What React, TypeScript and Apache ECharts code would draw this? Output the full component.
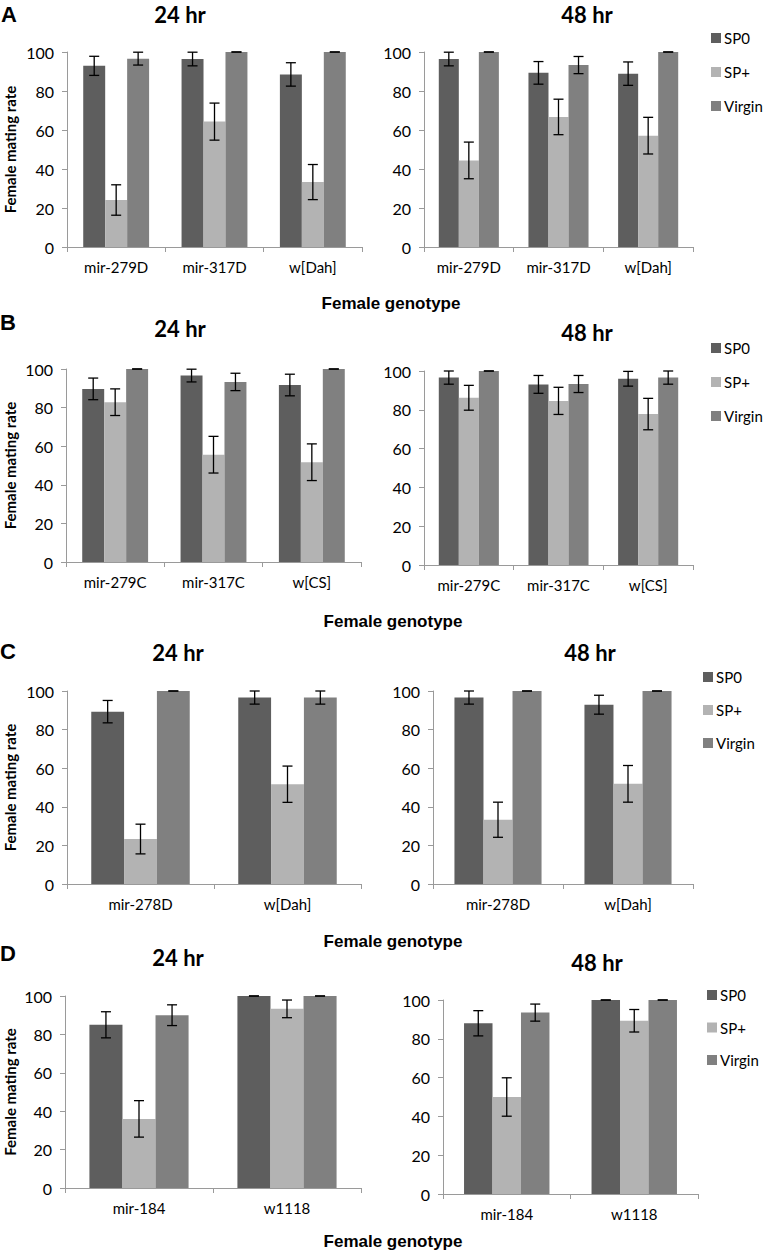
import React, { useEffect, useRef } from "react";
import * as echarts from "echarts";

// ---------- data ----------
const SERIES_NAMES = ["SP0", "SP+", "Virgin"];
const Y_MIN = 0;
const Y_MAX = 100;
const Y_INTERVAL = 20;

const CATS_A = ["mir-279D", "mir-317D", "w[Dah]"];
const CATS_B = ["mir-279C", "mir-317C", "w[CS]"];
const CATS_C = ["mir-278D", "w[Dah]"];
const CATS_D = ["mir-184", "w1118"];

// Panel A, 24 hr
const A24_SP0 = [92.9, 96.4, 88.5];
const A24_SP0_ERR = [4.9, 3.5, 6.0];
const A24_SPP = [24.1, 64.3, 33.3];
const A24_SPP_ERR = [7.8, 9.5, 9.0];
const A24_VIR = [96.6, 100, 100];
const A24_VIR_ERR = [3.3, 0, 0];
// Panel A, 48 hr
const A48_SP0 = [96.4, 89.3, 88.9];
const A48_SP0_ERR = [3.5, 5.8, 6.0];
const A48_SPP = [44.4, 66.7, 57.1];
const A48_SPP_ERR = [9.4, 9.1, 9.4];
const A48_VIR = [100, 93.3, 100];
const A48_VIR_ERR = [0, 4.4, 0];
// Panel B, 24 hr
const B24_SP0 = [89.7, 96.6, 91.7];
const B24_SP0_ERR = [5.6, 3.3, 5.6];
const B24_SPP = [82.8, 55.6, 51.7];
const B24_SPP_ERR = [6.9, 9.5, 9.5];
const B24_VIR = [100, 93.3, 100];
const B24_VIR_ERR = [0, 4.5, 0];
// Panel B, 48 hr
const B48_SP0 = [96.6, 93.1, 96.0];
const B48_SP0_ERR = [3.4, 4.6, 3.8];
const B48_SPP = [86.2, 84.6, 77.8];
const B48_SPP_ERR = [6.4, 7.0, 8.1];
const B48_VIR = [100, 93.3, 96.6];
const B48_VIR_ERR = [0, 4.4, 3.4];
// Panel C, 24 hr
const C24_SP0 = [89.3, 96.6];
const C24_SP0_ERR = [5.8, 3.4];
const C24_SPP = [23.3, 51.7];
const C24_SPP_ERR = [7.7, 9.4];
const C24_VIR = [100, 96.6];
const C24_VIR_ERR = [0, 3.4];
// Panel C, 48 hr
const C48_SP0 = [96.6, 92.9];
const C48_SP0_ERR = [3.4, 4.9];
const C48_SPP = [33.3, 51.9];
const C48_SPP_ERR = [9.1, 9.5];
const C48_VIR = [100, 100];
const C48_VIR_ERR = [0, 0];
// Panel D, 24 hr
const D24_SP0 = [85.0, 100];
const D24_SP0_ERR = [6.8, 0];
const D24_SPP = [36.0, 93.3];
const D24_SPP_ERR = [9.5, 4.6];
const D24_VIR = [90.0, 100];
const D24_VIR_ERR = [5.4, 0];
// Panel D, 48 hr
const D48_SP0 = [88.0, 100];
const D48_SP0_ERR = [6.5, 0];
const D48_SPP = [50.0, 89.3];
const D48_SPP_ERR = [9.9, 5.8];
const D48_VIR = [93.5, 100];
const D48_VIR_ERR = [4.4, 0];

const PANEL_LETTERS = ["A", "B", "C", "D"];
const TIME_LABELS = ["24 hr", "48 hr"];
const X_TITLE = "Female genotype";
const Y_TITLE = "Female mating rate";

// ---------- styling / layout ----------
const COLORS = ["#5e5e5e", "#b3b3b3", "#808080"];
const FONT = "Lato, 'Open Sans', sans-serif";
const ARIAL = "'Liberation Sans', Arial, sans-serif";
const AXIS_GRAY = "#9a9a9a";
const GAP = 0.33;

const CHARTS = [
  { cats: CATS_A, means: [A24_SP0, A24_SPP, A24_VIR], errs: [A24_SP0_ERR, A24_SPP_ERR, A24_VIR_ERR], grid: { left: 67, top: 52, width: 295, height: 195 } },
  { cats: CATS_A, means: [A48_SP0, A48_SPP, A48_VIR], errs: [A48_SP0_ERR, A48_SPP_ERR, A48_VIR_ERR], grid: { left: 424, top: 52, width: 269, height: 195 } },
  { cats: CATS_B, means: [B24_SP0, B24_SPP, B24_VIR], errs: [B24_SP0_ERR, B24_SPP_ERR, B24_VIR_ERR], grid: { left: 66, top: 369, width: 295, height: 193 } },
  { cats: CATS_B, means: [B48_SP0, B48_SPP, B48_VIR], errs: [B48_SP0_ERR, B48_SPP_ERR, B48_VIR_ERR], grid: { left: 424, top: 371, width: 269, height: 194 } },
  { cats: CATS_C, means: [C24_SP0, C24_SPP, C24_VIR], errs: [C24_SP0_ERR, C24_SPP_ERR, C24_VIR_ERR], grid: { left: 67, top: 691, width: 294, height: 193 } },
  { cats: CATS_C, means: [C48_SP0, C48_SPP, C48_VIR], errs: [C48_SP0_ERR, C48_SPP_ERR, C48_VIR_ERR], grid: { left: 433, top: 691, width: 260, height: 193 } },
  { cats: CATS_D, means: [D24_SP0, D24_SPP, D24_VIR], errs: [D24_SP0_ERR, D24_SPP_ERR, D24_VIR_ERR], grid: { left: 65, top: 996, width: 296, height: 192 } },
  { cats: CATS_D, means: [D48_SP0, D48_SPP, D48_VIR], errs: [D48_SP0_ERR, D48_SPP_ERR, D48_VIR_ERR], grid: { left: 443, top: 1000, width: 255, height: 194 } },
];

const LETTER_POS = [
  { x: 1, y: 14 },
  { x: 0, y: 322 },
  { x: 0, y: 651 },
  { x: 0, y: 953 },
];
const TITLE_POS = [
  [{ x: 180, y: 14 }, { x: 587, y: 14 }],
  [{ x: 180, y: 328 }, { x: 587, y: 332 }],
  [{ x: 178, y: 652 }, { x: 590, y: 652 }],
  [{ x: 178, y: 957 }, { x: 597, y: 962 }],
];
const XTITLE_POS = [
  { x: 391, y: 303 },
  { x: 393, y: 621 },
  { x: 393, y: 941 },
  { x: 393, y: 1241 },
];
const LEGEND_POS = [
  { left: 706, top: 24, gap: 16 },
  { left: 706, top: 334, gap: 16 },
  { left: 698, top: 663, gap: 15 },
  { left: 702, top: 981, gap: 14.5 },
];

function errSeries(gi: number, s: number, means: number[], errs: number[]) {
  return {
    type: "custom",
    xAxisIndex: gi,
    yAxisIndex: gi,
    silent: true,
    z: 10,
    encode: { x: 0, y: 1 },
    data: means.map((m, i) => [i, m, errs[i]]),
    renderItem: (params: any, api: any) => {
      const ci = api.value(0);
      const v = api.value(1);
      const e = api.value(2);
      const band = api.size([1, 0])[0];
      const bw = (band * (1 - GAP)) / 3;
      const x = api.coord([ci, v])[0] + (s - 1) * bw;
      const yT = api.coord([ci, v + e])[1];
      const yB = api.coord([ci, v - e])[1];
      const h = 5;
      const st = { stroke: "#000", lineWidth: 1.3 };
      return {
        type: "group",
        children: [
          { type: "line", shape: { x1: x, y1: yT, x2: x, y2: yB }, style: st },
          { type: "line", shape: { x1: x - h, y1: yT, x2: x + h, y2: yT }, style: st },
          { type: "line", shape: { x1: x - h, y1: yB, x2: x + h, y2: yB }, style: st },
        ],
      };
    },
  };
}

function buildOption() {
  const grid: any[] = [];
  const xAxis: any[] = [];
  const yAxis: any[] = [];
  const series: any[] = [];
  CHARTS.forEach((c, gi) => {
    grid.push({ ...c.grid, containLabel: false });
    xAxis.push({
      type: "category",
      gridIndex: gi,
      data: c.cats,
      axisLine: { show: true, lineStyle: { color: AXIS_GRAY, width: 1 } },
      axisTick: { show: true, length: 5, lineStyle: { color: AXIS_GRAY } },
      axisLabel: { color: "#000", fontFamily: FONT, fontSize: 15, margin: 12 },
      splitLine: { show: false },
    });
    yAxis.push({
      type: "value",
      gridIndex: gi,
      min: Y_MIN,
      max: Y_MAX,
      interval: Y_INTERVAL,
      axisLine: { show: true, lineStyle: { color: AXIS_GRAY, width: 1 } },
      axisTick: { show: true, length: 5, lineStyle: { color: AXIS_GRAY } },
      axisLabel: { color: "#000", fontFamily: FONT, fontSize: 16, margin: 13 },
      splitLine: { show: false },
    });
    c.means.forEach((m, s) => {
      series.push({
        type: "bar",
        name: SERIES_NAMES[s],
        xAxisIndex: gi,
        yAxisIndex: gi,
        data: m,
        barGap: "0%",
        barCategoryGap: GAP * 100 + "%",
        itemStyle: { color: COLORS[s] },
        silent: true,
      });
    });
    c.means.forEach((m, s) => {
      series.push(errSeries(gi, s, m, c.errs[s]));
    });
  });

  const legend = LEGEND_POS.map((p) => ({
    data: SERIES_NAMES,
    orient: "vertical",
    left: p.left,
    top: p.top,
    itemWidth: 10,
    itemHeight: 10,
    itemGap: p.gap,
    icon: "rect",
    selectedMode: false,
    textStyle: { fontFamily: FONT, fontSize: 15, color: "#000", lineHeight: 18, padding: [0, 0, 0, -2] },
  }));

  const graphic: any[] = [];
  PANEL_LETTERS.forEach((L, i) => {
    graphic.push({
      type: "text",
      x: LETTER_POS[i].x,
      y: LETTER_POS[i].y,
      style: { text: L, font: `bold 22px ${ARIAL}`, fill: "#000", align: "left", verticalAlign: "middle" },
    });
    TIME_LABELS.forEach((t, j) => {
      graphic.push({
        type: "text",
        x: TITLE_POS[i][j].x,
        y: TITLE_POS[i][j].y,
        style: { text: t, font: `bold 22px ${FONT}`, fill: "#000", align: "center", verticalAlign: "middle" },
      });
    });
    graphic.push({
      type: "text",
      x: XTITLE_POS[i].x,
      y: XTITLE_POS[i].y,
      style: { text: X_TITLE, font: `bold 17px ${ARIAL}`, fill: "#000", align: "center", verticalAlign: "middle" },
    });
    const g = CHARTS[i * 2].grid;
    graphic.push({
      type: "text",
      x: 10,
      y: g.top + g.height / 2,
      rotation: Math.PI / 2,
      style: { text: Y_TITLE, font: `bold 15px ${FONT}`, fill: "#000", align: "center", verticalAlign: "middle" },
    });
  });

  return {
    animation: false,
    backgroundColor: "#fff",
    grid,
    xAxis,
    yAxis,
    series,
    legend,
    graphic,
  };
}

export default function App() {
  const ref = useRef<HTMLDivElement>(null);
  useEffect(() => {
    if (!ref.current) return;
    const chart = echarts.init(ref.current, null, { renderer: "svg" });
    chart.setOption(buildOption() as any);
    return () => chart.dispose();
  }, []);
  return (
    <div
      ref={ref}
      style={{ position: "absolute", left: 0, top: 0, width: 764, height: 1254, background: "#fff" }}
    />
  );
}
